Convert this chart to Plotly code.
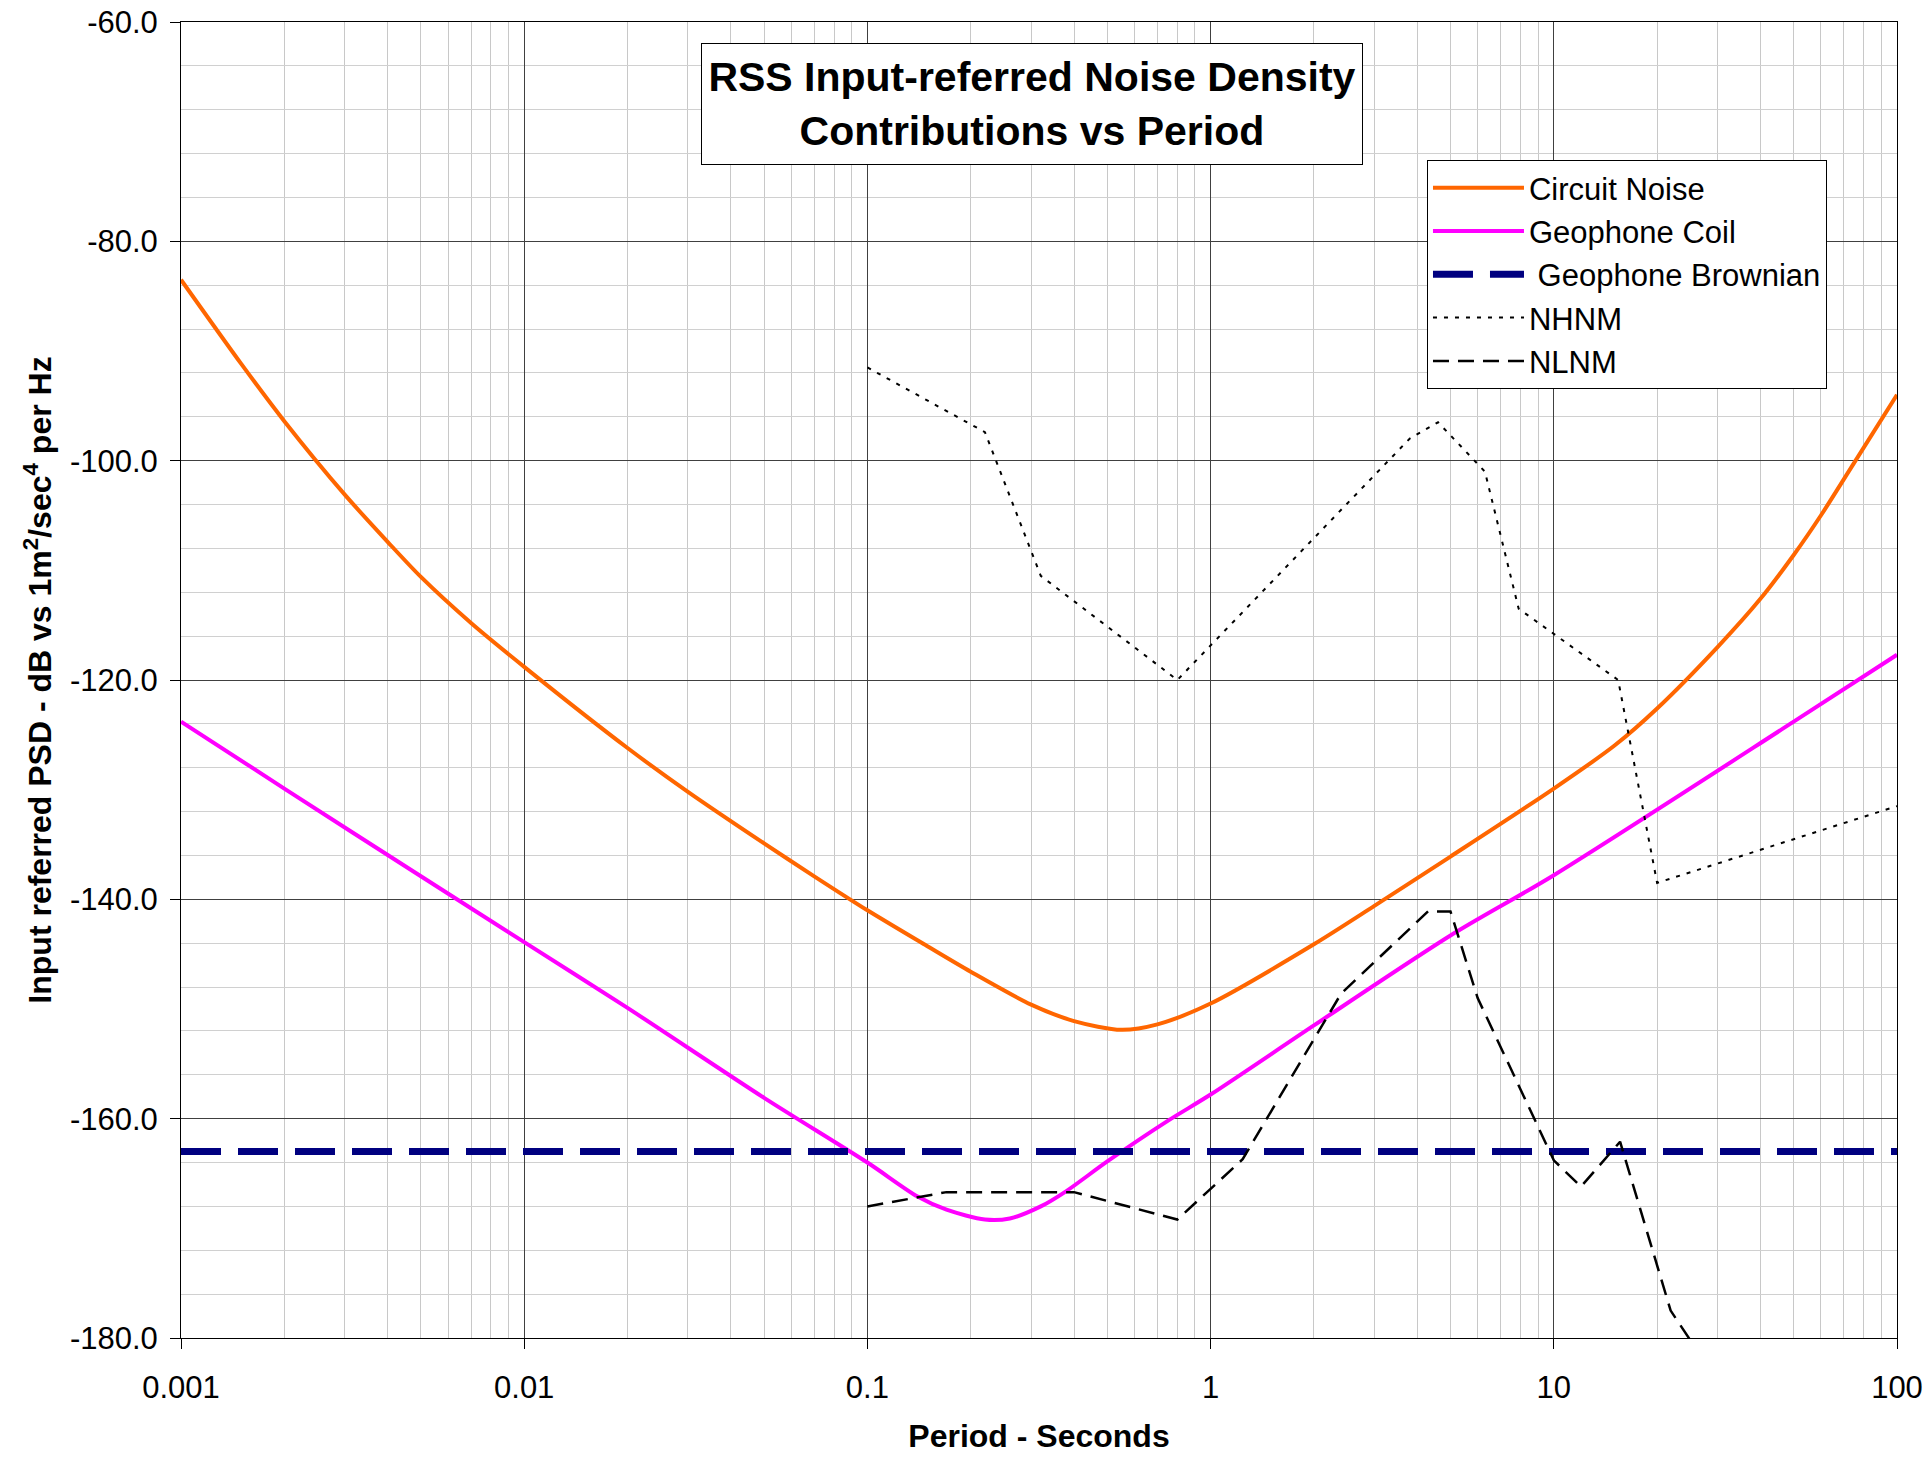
import plotly.graph_objects as go

# ---- data ----
circuit_T = [0.001, 0.0015, 0.002, 0.003, 0.004, 0.005, 0.007, 0.01, 0.02, 0.03, 0.05, 0.07,
             0.1, 0.15, 0.2, 0.3, 0.4, 0.55, 0.7, 1.0, 2.0, 3.0, 5.0, 10.0, 15.0, 20.0, 30.0, 40.0,
             50.0, 60.0, 75.0, 100.0]
circuit_dB = [-83.5, -91.2, -96.4, -103.1, -107.4, -110.6, -114.8, -118.8, -126.2, -130.2, -134.9, -137.9,
              -141.0, -144.3, -146.6, -149.6, -151.1, -151.9, -151.4, -149.5, -144.1, -140.6, -136.1, -129.9,
              -126.0, -122.6, -117.0, -112.6, -108.6, -105.0, -100.2, -94.0]

coil_T = [0.001, 0.002, 0.005, 0.01, 0.02, 0.05, 0.1, 0.14, 0.17, 0.22, 0.26, 0.32, 0.38, 0.5,
          0.75, 1.0, 2.0, 5.0, 10.0, 50.0, 100.0]
coil_dB = [-123.8, -129.9, -137.9, -143.9, -149.9, -158.1, -164.0, -167.1, -168.3, -169.2, -169.1,
           -168.0, -166.6, -163.9, -160.2, -157.8, -151.5, -143.3, -137.8, -123.8, -117.7]

brownian_T = [0.001, 100.0]
brownian_dB = [-163.0, -163.0]

nhnm_T = [0.1, 0.22, 0.32, 0.8, 3.8, 4.6, 6.3, 7.9, 15.4, 20.0, 100.0]
nhnm_dB = [-91.5, -97.4, -110.5, -120.0, -98.0, -96.5, -101.0, -113.5, -120.0, -138.5, -131.5]

nlnm_T = [0.1, 0.17, 0.4, 0.8, 1.24, 2.4, 4.3, 5.0, 6.0, 10.0, 12.0, 15.6, 21.9, 31.6]
nlnm_dB = [-168.0, -166.7, -166.7, -169.2, -163.7, -148.6, -141.1, -141.1, -149.0, -163.8, -166.2,
           -162.1, -177.5, -185.0]

x_tickvals = [0.001, 0.01, 0.1, 1, 10, 100]
x_ticktext = ["0.001", "0.01", "0.1", "1", "10", "100"]
y_tickvals = [-60, -80, -100, -120, -140, -160, -180]
y_ticktext = ["%.1f" % v for v in y_tickvals]

FONT = "Liberation Sans, Arial, sans-serif"

fig = go.Figure()
fig.add_trace(go.Scatter(x=circuit_T, y=circuit_dB, mode="lines", name="Circuit Noise",
                         line=dict(color="#FF6600", width=4, shape="spline", smoothing=0.8)))
fig.add_trace(go.Scatter(x=coil_T, y=coil_dB, mode="lines", name="Geophone Coil",
                         line=dict(color="#FF00FF", width=4, shape="spline", smoothing=0.8)))
fig.add_trace(go.Scatter(x=brownian_T, y=brownian_dB, mode="lines", name="\u00a0Geophone Brownian",
                         line=dict(color="#000080", width=7, dash="40px,17px")))
fig.add_trace(go.Scatter(x=nhnm_T, y=nhnm_dB, mode="lines", name="NHNM",
                         line=dict(color="black", width=2, dash="4px,7px")))
fig.add_trace(go.Scatter(x=nlnm_T, y=nlnm_dB, mode="lines", name="NLNM",
                         line=dict(color="black", width=2.5, dash="16px,9px")))

fig.update_layout(
    width=1929, height=1457,
    margin=dict(l=181, r=32, t=22, b=119, autoexpand=False),
    paper_bgcolor="white", plot_bgcolor="white",
    font=dict(family=FONT, size=32, color="black"),
    showlegend=True,
    legend=dict(x=0.7261, y=0.8951, xanchor="left", yanchor="top",
                bgcolor="white", bordercolor="black", borderwidth=1,
                font=dict(family=FONT, size=31, color="black"),
                itemwidth=91, tracegroupgap=0, traceorder="normal"),
    annotations=[dict(
        text="<b>RSS Input-referred Noise Density<br>Contributions vs Period</b>",
        xref="paper", yref="paper", x=0.4959, y=0.9377, xanchor="center", yanchor="middle",
        showarrow=False, font=dict(family=FONT, size=41, color="black"),
        bgcolor="white", bordercolor="black", borderwidth=1, borderpad=4,
        width=652, height=112, align="center")],
)

fig.update_xaxes(
    type="log", range=[-3, 2],
    tickvals=x_tickvals, ticktext=x_ticktext,
    ticks="outside", ticklen=10, tickcolor="black", tickwidth=1,
    ticklabelstandoff=12,
    showline=True, linecolor="black", linewidth=1, mirror=True,
    showgrid=True, gridcolor="#404040", gridwidth=1,
    minor=dict(dtick="D1", showgrid=True, gridcolor="#c8c8c8", gridwidth=1, ticks=""),
    zeroline=False,
    title=dict(text="<b>Period - Seconds</b>", font=dict(family=FONT, size=32), standoff=20),
    tickfont=dict(family=FONT, size=31),
)
fig.update_yaxes(
    range=[-180, -60], tickvals=y_tickvals, ticktext=y_ticktext,
    ticks="outside", ticklen=10, tickcolor="black", tickwidth=1,
    ticklabelstandoff=6,
    showline=True, linecolor="black", linewidth=1, mirror=True,
    showgrid=True, gridcolor="#404040", gridwidth=1,
    minor=dict(dtick=4, showgrid=True, gridcolor="#d0d0d0", gridwidth=1, ticks=""),
    zeroline=False,
    title=dict(text="<b>Input referred PSD - dB vs 1m<sup>2</sup>/sec<sup>4</sup> per Hz</b>",
               font=dict(family=FONT, size=32), standoff=8),
    tickfont=dict(family=FONT, size=31),
)

fig.write_html("out.html", config={"displayModeBar": False},
               post_script="document.body.style.margin='0';")
